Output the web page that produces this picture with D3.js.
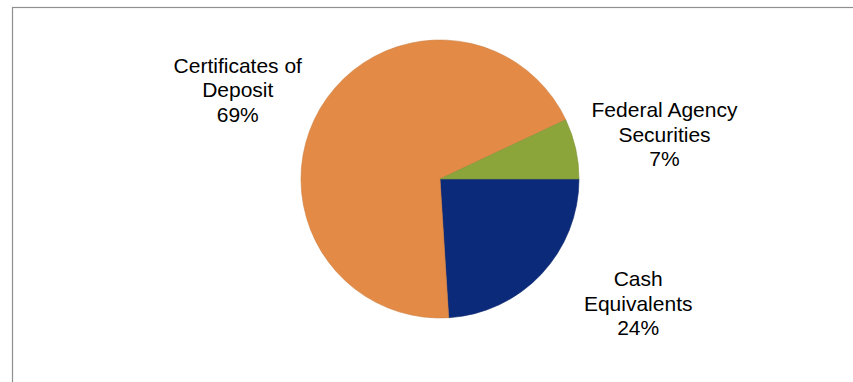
<!DOCTYPE html>
<html><head><meta charset="utf-8">
<script src="https://cdn.jsdelivr.net/npm/d3@7"></script>
<style>html,body{margin:0;padding:0;background:#fff;overflow:hidden}</style>
</head><body><svg id="c" width="853" height="382"></svg>
<script>
const categories = ["Cash Equivalents", "Certificates of Deposit", "Federal Agency Securities"];
const labelLines = [["Cash", "Equivalents"], ["Certificates of", "Deposit"], ["Federal Agency", "Securities"]];
const values = [24, 69, 7];
const colors = ["#0C2A7A", "#E38B46", "#8CA53B"];

const svg = d3.select("#c");
// frame
svg.append("rect").attr("x", 12.5).attr("y", 7.5).attr("width", 900).attr("height", 500)
  .attr("fill", "none").attr("stroke", "#8f8f8f").attr("stroke-width", 1.2);

const cx = 440, cy = 179, r = 139;
const pie = d3.pie().sort(null).value(d => d).startAngle(Math.PI / 2).endAngle(Math.PI / 2 + 2 * Math.PI);
const arcs = pie(values);
const arc = d3.arc().innerRadius(0).outerRadius(r);
const g = svg.append("g").attr("transform", `translate(${cx},${cy})`);
g.selectAll("path").data(arcs).join("path")
  .attr("d", arc).attr("fill", (d, i) => colors[i])
  .attr("stroke", (d, i) => d3.color(colors[i]).darker(0.3)).attr("stroke-width", 0.6);

// label placement: centroid on outer label arc plus nudge (x,y)
const labelArc = d3.arc().innerRadius(228).outerRadius(228);
const nudges = [[32, -32], [-6, 27], [2, 5]];
const lab = svg.append("g").attr("font-family", "'Liberation Sans', Arial, sans-serif")
  .attr("font-size", 21).attr("fill", "#000").attr("text-anchor", "middle");
arcs.forEach((d, i) => {
  const [x, y] = labelArc.centroid(d);
  const px = cx + x + nudges[i][0], py = cy + y + nudges[i][1];
  const lines = labelLines[i].concat([values[i] + "%"]);
  const t = lab.append("text").attr("x", px).attr("y", py - 24 + 7);
  lines.forEach((l, j) => t.append("tspan").attr("x", px).attr("dy", j === 0 ? 0 : 24.5).text(l));
});
</script></body></html>
